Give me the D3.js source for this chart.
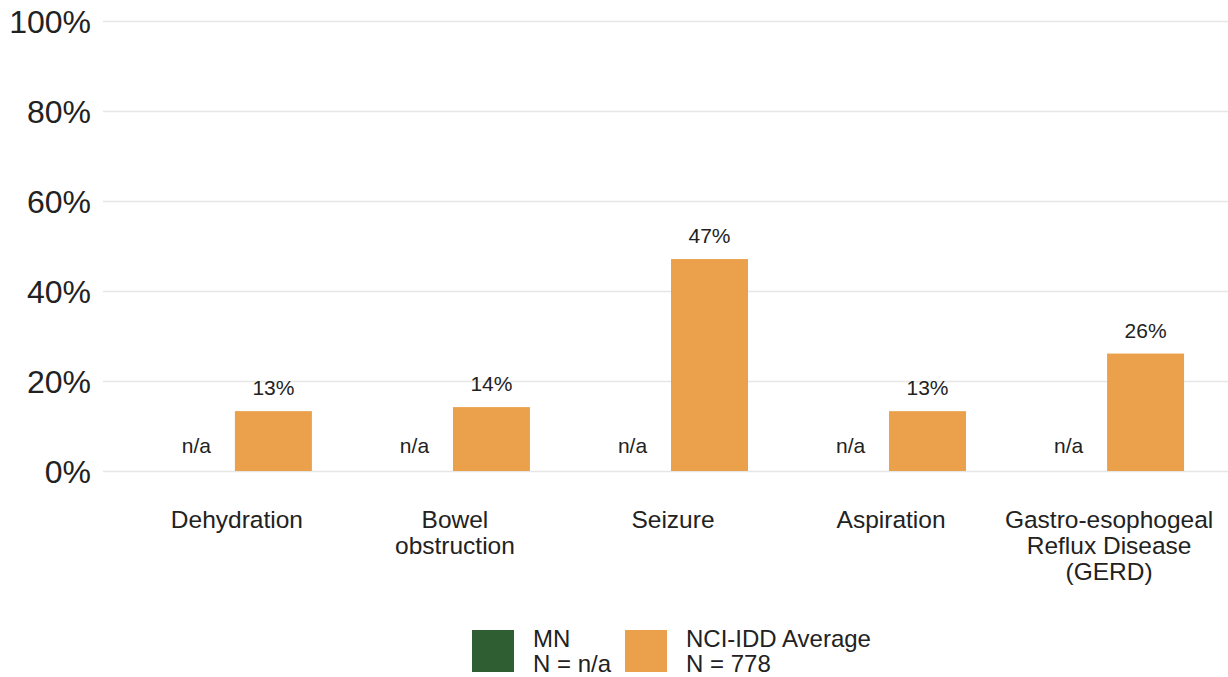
<!DOCTYPE html>
<html>
<head>
<meta charset="utf-8">
<script src="https://cdn.jsdelivr.net/npm/d3@7"></script>
<style>
  body { margin: 0; background: #fff; }
  svg { display: block; font-family: "Liberation Sans", Arial, sans-serif; }
</style>
</head>
<body>
<div id="chart"></div>
<script>
// Chart data
const categories = [
    ["Dehydration"],
    ["Bowel", "obstruction"],
    ["Seizure"],
    ["Aspiration"],
    ["Gastro-esophogeal", "Reflux Disease", "(GERD)"]
];
const series = ["MN", "NCI-IDD Average"];
const seriesN = ["N = n/a", "N = 778"];
const mnValues = [null, null, null, null, null];
const nciValues = [13.3, 14.2, 47.1, 13.3, 26.1];
const nciLabels = ["13%", "14%", "47%", "13%", "26%"];
const yTicks = [0, 20, 40, 60, 80, 100];
const colors = ["#2e5e32", "#eba04b"];

const width = 1228;
const height = 677;

const svg = d3.select("#chart")
    .append("svg")
    .attr("width", width)
    .attr("height", height);

const y = d3.scaleLinear()
    .domain([0, 100])
    .range([471, 21]);

const x = d3.scaleBand()
    .domain(d3.range(categories.length))
    .range([103, 1239])
    .paddingInner(0.294)
    .paddingOuter(0.252);

const xSub = d3.scaleBand()
    .domain([0, 1])
    .range([0, x.bandwidth()]);

// Gridlines
svg.append("g")
    .selectAll("line")
    .data(yTicks)
    .join("line")
    .attr("x1", 103)
    .attr("x2", width)
    .attr("y1", d => Math.round(y(d)) + 0.5)
    .attr("y2", d => Math.round(y(d)) + 0.5)
    .attr("stroke", "#e6e6e6")
    .attr("stroke-width", 1.5);

// Y tick labels
svg.append("g")
    .selectAll("text")
    .data(yTicks)
    .join("text")
    .attr("x", 91)
    .attr("y", d => y(d))
    .attr("dy", "0.36em")
    .attr("text-anchor", "end")
    .attr("fill", "#222")
    .attr("font-size", "32px")
    .text(d => d + "%");

// Bars
const groups = svg.append("g")
    .selectAll("g")
    .data(categories)
    .join("g")
    .attr("transform", (d, i) => `translate(${x(i)},0)`);

groups.append("rect")
    .attr("x", xSub(1))
    .attr("width", xSub.bandwidth())
    .attr("y", (d, i) => y(nciValues[i]))
    .attr("height", (d, i) => y(0) - y(nciValues[i]))
    .attr("fill", colors[1]);

groups.append("text")
    .attr("x", xSub(1) + xSub.bandwidth() / 2)
    .attr("y", (d, i) => y(nciValues[i]) - 16)
    .attr("text-anchor", "middle")
    .attr("fill", "#222")
    .attr("font-size", "21px")
    .text((d, i) => nciLabels[i]);

// n/a labels for missing MN values
groups.append("text")
    .attr("x", xSub(0) + xSub.bandwidth() / 2)
    .attr("y", (d, i) => y(mnValues[i] || 0) - 18)
    .attr("text-anchor", "middle")
    .attr("fill", "#222")
    .attr("font-size", "21px")
    .text((d, i) => mnValues[i] == null ? "n/a" : mnValues[i] + "%");

// Category labels
groups.append("text")
    .attr("x", x.bandwidth() / 2 + 2)
    .attr("y", 528)
    .attr("text-anchor", "middle")
    .attr("fill", "#222")
    .attr("font-size", "24.5px")
    .selectAll("tspan")
    .data(d => d)
    .join("tspan")
    .attr("x", x.bandwidth() / 2 + 2)
    .attr("dy", (d, i) => i === 0 ? 0 : 26)
    .text(d => d);

// Legend
const legendX = [472, 625];
const legend = svg.append("g")
    .selectAll("g")
    .data(series)
    .join("g")
    .attr("transform", (d, i) => `translate(${legendX[i]},630)`);

legend.append("rect")
    .attr("width", 42)
    .attr("height", 42)
    .attr("fill", (d, i) => colors[i]);

legend.append("text")
    .attr("x", 61)
    .attr("y", 17)
    .attr("fill", "#222")
    .attr("font-size", "24px")
    .text(d => d);

legend.append("text")
    .attr("x", 61)
    .attr("y", 42)
    .attr("fill", "#222")
    .attr("font-size", "24px")
    .text((d, i) => seriesN[i]);
</script>
</body>
</html>
